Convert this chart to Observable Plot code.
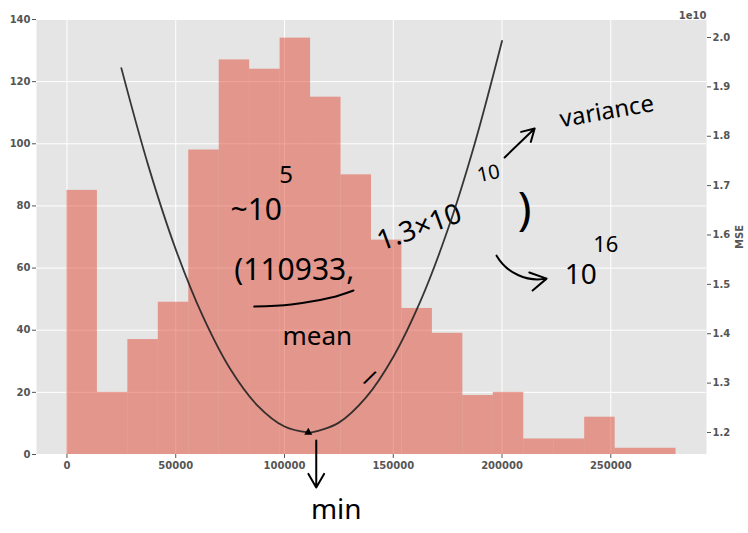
<!DOCTYPE html>
<html><head><meta charset="utf-8">
<script src="https://cdn.jsdelivr.net/npm/d3@7"></script>
<script src="https://cdn.jsdelivr.net/npm/@observablehq/plot@0.6"></script>
<style>
body{margin:0;background:#fff}
#c{position:relative;width:748px;height:533px}
#c svg{position:absolute;left:0;top:0;overflow:visible}
</style>
</head><body><div id="c"></div>
<script>
// Histogram: bin edges and counts
const binStarts = [0,14000,28000,42000,56000,70000,84000,98000,112000,126000,140000,154000,168000,182000,196000,210000,224000,238000,252000,266000];
const binWidth = 14000;
const counts = [85,20,37,49,98,127,124,134,115,90,69,47,39,19,20,5,5,12,2,2];

// MSE curve
const candidateMeans = [25000,37500,50000,62500,75000,87500,100000,110933,112500,125000,137500,150000,162500,175000,187500,200000];
const mseValues = [1.938e10,1.739e10,1.571e10,1.435e10,1.329e10,1.255e10,1.212e10,1.200e10,1.200e10,1.220e10,1.271e10,1.353e10,1.466e10,1.610e10,1.786e10,1.993e10];
const minMean = [110933];
const minMse = [1.2e10];

// Ticks
const xTicks = [0,50000,100000,150000,200000,250000];
const countTicks = [0,20,40,60,80,100,120,140];
const mseTicks = [1.2e10,1.3e10,1.4e10,1.5e10,1.6e10,1.7e10,1.8e10,1.9e10,2.0e10];

// Handwritten notes (x in data units, y in count units)
const noteText   = ["~10","5","(110933,","mean","1.3×10","10",")","10","16","variance","min","/"];
const noteX      = [87000,100800,104500,115100,162000,193800,210400,236200,247700,248200,123800,139000];
const noteY      = [78.5,89.8,59.2,38,73,90.4,78.5,57.6,67.3,110.4,-18,24.5];
const noteSize   = [30,24,30,26,28,20,46,28,22,24,28,22];
const noteRotate = [0,0,0,0,-20,-12,0,0,0,-10,0,25];
const underlineX = [86100,103100,121500,131700];
const underlineY = [47.6,48.3,50.5,52.8];
// Hand-drawn arrows (data units): down to "min", up to "variance", curved to 10^16
const arrowX1 = [114600,201200,197500];
const arrowY1 = [4.5,95.6,64];
const arrowX2 = [114600,215000,220500];
const arrowY2 = [-10.6,104.9,56.6];
const arrowBend = [0,0,-35];

const bins = binStarts.map((s,i)=>({x1:s, x2:s+binWidth, y:counts[i]}));
const curve = candidateMeans.map((m,i)=>({m, v:mseValues[i]}));
const minPt = minMean.map((m,i)=>({m, v:minMse[i]}));
const notes = noteText.map((t,i)=>({t, x:noteX[i], y:noteY[i], s:noteSize[i], r:noteRotate[i]}));
const underline = underlineX.map((x,i)=>({x, y:underlineY[i]}));
const arrows = arrowX1.map((x,i)=>({x1:x, y1:arrowY1[i], x2:arrowX2[i], y2:arrowY2[i], b:arrowBend[i]}));

const W = 748, H = 533;
const margins = {marginLeft:36, marginRight:42, marginTop:19, marginBottom:79};
const xDomain = [-14000, 294000];
const axisStyle = {fill:"#555", stroke:"#555", fontWeight:"bold"};

const p1 = Plot.plot({
  width:W, height:H, ...margins,
  style:{fontFamily:"DejaVu Sans", fontSize:"10px", background:"transparent"},
  x:{domain:xDomain},
  y:{domain:[0,140]},
  marks:[
    Plot.frame({fill:"#E5E5E5", stroke:null}),
    Plot.gridX(xTicks, {stroke:"white", strokeOpacity:1, strokeWidth:1}),
    Plot.gridY(countTicks, {stroke:"white", strokeOpacity:1, strokeWidth:1}),
    Plot.rectY(bins, {x1:"x1", x2:"x2", y:"y", fill:"#E24A33", fillOpacity:0.5}),
    Plot.axisX({ticks:xTicks, tickFormat:d=>String(d), tickSize:4, tickPadding:3, label:null, ...axisStyle}),
    Plot.axisY({ticks:countTicks, tickFormat:d=>String(d), tickSize:4, tickPadding:2, label:null, ...axisStyle}),
    Plot.line(underline, {x:"x", y:"y", stroke:"black", strokeWidth:2, curve:"catmull-rom"}),
    ...arrows.map(a => Plot.arrow([a], {x1:"x1", y1:"y1", x2:"x2", y2:"y2", bend:a.b, stroke:"black", strokeWidth:2, headLength:14})),
    ...notes.map(n => Plot.text([n], {x:"x", y:"y", text:"t", fontSize:n.s, rotate:n.r, fill:"black", fontFamily:"Noto Sans", fontWeight:"normal"}))
  ]
});

const p2 = Plot.plot({
  width:W, height:H, ...margins,
  style:{fontFamily:"DejaVu Sans", fontSize:"10px", background:"transparent"},
  x:{domain:xDomain, axis:null},
  y:{domain:[1.1554e10, 2.0365e10]},
  marks:[
    Plot.line(curve, {x:"m", y:"v", stroke:"#222", strokeWidth:1.8, strokeOpacity:0.9, curve:"catmull-rom"}),
    Plot.dot(minPt, {x:"m", y:"v", symbol:"triangle", r:3, fill:"black", stroke:null}),
    Plot.axisY({anchor:"right", ticks:mseTicks, tickFormat:d=>(d/1e10).toFixed(1), tickSize:4, tickPadding:2,
      label:"MSE", labelAnchor:"center", labelOffset:36, labelArrow:"none", ...axisStyle}),
    Plot.text(["1e10"], {frameAnchor:"top-right", text:d=>d, dy:-8, textAnchor:"end", fill:"#555", fontWeight:"bold"})
  ]
});

document.getElementById("c").append(p1, p2);
</script>
</body></html>
